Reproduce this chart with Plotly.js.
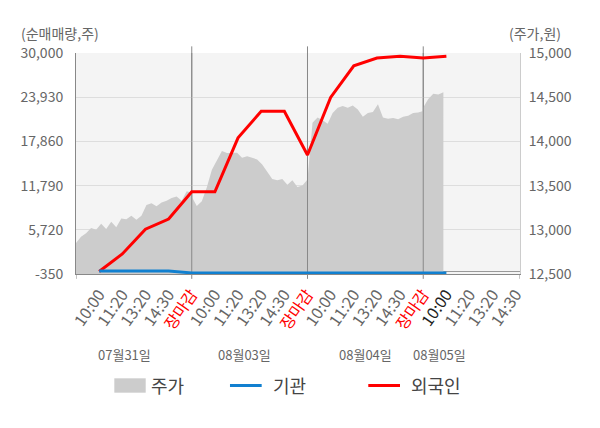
<!DOCTYPE html>
<html>
<head>
<meta charset="utf-8">
<script src="https://cdn.plot.ly/plotly-3.0.1.min.js"></script>
<style>
html, body { margin: 0; padding: 0; background: #fff; }
#chart { width: 600px; height: 428px; }
</style>
</head>
<body>
<div id="chart"></div>
<script>
// x tick labels (one per slot)
var timeLabels = ['10:00', '11:20', '13:20', '14:30', '장마감',
                  '10:00', '11:20', '13:20', '14:30', '장마감',
                  '10:00', '11:20', '13:20', '14:30', '장마감',
                  '10:00', '11:20', '13:20', '14:30'];
var dateLabels = ['07월31일', '08월03일', '08월04일', '08월05일'];

// stock price (원), intraday samples per day
var price0731 = [12852, 12920, 12960, 13020, 13000, 13068, 13010, 13090, 13030, 13128, 13120, 13159,
                 13114, 13160, 13280, 13300, 13265, 13310, 13330, 13360, 13378, 13330, 13435, 13420];
var price0803 = [13375, 13270, 13322, 13480, 13680, 13777, 13890, 13870, 13871, 13871, 13815, 13833,
                 13815, 13795, 13739, 13663, 13576, 13560, 13576, 13511, 13560, 13485, 13500, 13568];
var price0804 = [13568, 14212, 14269, 14240, 14200, 14320, 14380, 14400, 14380, 14405, 14360, 14280,
                 14320, 14333, 14420, 14269, 14255, 14265, 14250, 14280, 14290, 14320, 14326, 14345];
var price0805 = [14383, 14480, 14540, 14530, 14555];

// cumulative net buying (주)
var foreignNet = [0, 2400, 5800, 7200, 10950, 10950, 18350, 22000, 22000, 16000, 23900, 28250, 29300, 29550, 29300, 29550];
var instNet = [50, 50, 50, 50, -200, -200, -200, -200, -200, -200, -200, -200, -200, -200, -200, -200];

var volTicks = [-350, 5720, 11790, 17860, 23930, 30000];
var priceTicks = [12500, 13000, 13500, 14000, 14500, 15000];

var slotsPerDay = 5;
var xMax = 19.18;
var font = 'Noto Sans CJK KR, Noto Sans, sans-serif';

var priceDays = [price0731, price0803, price0804, price0805];
var priceX = [], priceY = [];
priceDays.forEach(function (d, di) {
  d.forEach(function (v, i) {
    priceX.push(di * slotsPerDay + i * slotsPerDay / 23);
    priceY.push(v);
  });
});

var netX = foreignNet.map(function (v, i) { return i + 1; });

var dayBounds = [1, 2, 3].map(function (d) { return d * slotsPerDay; });
var dayLineX = [], dayLineY = [];
dayBounds.forEach(function (b) {
  dayLineX.push(b, b, null);
  dayLineY.push(priceTicks[0], priceTicks[priceTicks.length - 1], null);
});

var tickText = timeLabels.map(function (t, i) {
  if (t === '장마감') return '<span style="color:#ff0000">' + t + '</span>';
  if (i === 15) return '<span style="color:#222">' + t + '</span>';
  return t;
});

var traces = [
  {
    x: priceX, y: priceY, type: 'scatter', mode: 'lines',
    fill: 'tozeroy', fillcolor: '#cccccc', line: {width: 0, color: '#cccccc'},
    xaxis: 'x', yaxis: 'y', showlegend: false
  },
  {
    x: dayLineX, y: dayLineY, type: 'scatter', mode: 'lines',
    line: {width: 1, color: '#888888'}, xaxis: 'x', yaxis: 'y', showlegend: false
  },
  {
    x: netX, y: foreignNet, type: 'scatter', mode: 'lines',
    line: {width: 3, color: '#ff0000'}, xaxis: 'x', yaxis: 'y2', showlegend: false
  },
  {
    x: netX, y: instNet, type: 'scatter', mode: 'lines',
    line: {width: 3, color: '#1180d0'}, xaxis: 'x', yaxis: 'y2', showlegend: false
  }
];

// day boundary lines above the plot + bottom tick marks
var shapes = [];
dayBounds.forEach(function (b) {
  shapes.push({type: 'line', xref: 'x', yref: 'paper', x0: b, x1: b, y0: 0, y1: 1.03,
               line: {color: '#888888', width: 1}, layer: 'below'});
});
[0].concat(dayBounds, [xMax]).forEach(function (b) {
  shapes.push({type: 'line', xref: 'x', yref: 'paper', x0: b, x1: b, y0: -0.022, y1: 0,
               line: {color: '#888888', width: 1}, layer: 'below'});
});

// custom legend
shapes.push({type: 'rect', xref: 'paper', yref: 'paper', x0: 0.0863, x1: 0.157, y0: -0.537, y1: -0.472,
             fillcolor: '#cccccc', line: {width: 0}});
shapes.push({type: 'line', xref: 'paper', yref: 'paper', x0: 0.3468, x1: 0.4182, y0: -0.5045, y1: -0.5045,
             line: {color: '#1180d0', width: 3}});
shapes.push({type: 'line', xref: 'paper', yref: 'paper', x0: 0.6583, x1: 0.7297, y0: -0.5045, y1: -0.5045,
             line: {color: '#ff0000', width: 3}});

var annotations = [
  {text: '(순매매량,주)', xref: 'paper', yref: 'paper', x: -0.128, y: 1.09, xanchor: 'left', yanchor: 'middle',
   showarrow: false, font: {family: font, size: 14, color: '#666'}},
  {text: '(주가,원)', xref: 'paper', yref: 'paper', x: 1.097, y: 1.09, xanchor: 'right', yanchor: 'middle',
   showarrow: false, font: {family: font, size: 14, color: '#666'}},
  {text: '주가', xref: 'paper', yref: 'paper', x: 0.1655, y: -0.5045, xanchor: 'left', yanchor: 'middle',
   showarrow: false, font: {family: font, size: 18, color: '#444'}},
  {text: '기관', xref: 'paper', yref: 'paper', x: 0.4392, y: -0.5045, xanchor: 'left', yanchor: 'middle',
   showarrow: false, font: {family: font, size: 18, color: '#444'}},
  {text: '외국인', xref: 'paper', yref: 'paper', x: 0.75, y: -0.5045, xanchor: 'left', yanchor: 'middle',
   showarrow: false, font: {family: font, size: 18, color: '#444'}}
];
var dateCenters = [2.1, 7.3, 12.5, 15.7];
dateLabels.forEach(function (d, i) {
  annotations.push({text: d, xref: 'x', yref: 'paper', x: dateCenters[i], y: -0.362,
                    xanchor: 'center', yanchor: 'middle', showarrow: false,
                    font: {family: font, size: 13, color: '#666'}});
});

var layout = {
  width: 600, height: 428,
  margin: {l: 76, r: 80, t: 53, b: 154},
  paper_bgcolor: '#ffffff',
  plot_bgcolor: '#f4f4f4',
  showlegend: false,
  hovermode: false,
  font: {family: font, color: '#666'},
  xaxis: {
    range: [0, xMax], tickmode: 'array',
    tickvals: timeLabels.map(function (t, i) { return i + 1; }),
    ticktext: tickText, tickangle: -55,
    tickfont: {family: font, size: 16, color: '#666'},
    showgrid: false, zeroline: false, ticks: '', ticklabelstandoff: 4,
    showline: true, linecolor: '#888888', linewidth: 1
  },
  yaxis: {
    range: [priceTicks[0], priceTicks[priceTicks.length - 1]],
    side: 'right', tickmode: 'array', tickvals: priceTicks,
    ticktext: priceTicks.map(function (v) { return v.toLocaleString('en-US'); }),
    tickfont: {family: font, size: 14, color: '#666'},
    showgrid: false, zeroline: false, showline: true, linecolor: '#cccccc',
    ticks: '', ticklabelstandoff: 5
  },
  yaxis2: {
    range: [volTicks[0], volTicks[volTicks.length - 1]],
    overlaying: 'y', side: 'left', tickmode: 'array', tickvals: volTicks,
    ticktext: volTicks.map(function (v) { return v.toLocaleString('en-US'); }),
    tickfont: {family: font, size: 14, color: '#666'},
    showgrid: true, gridcolor: '#dddddd', gridwidth: 1,
    zeroline: true, zerolinecolor: '#999999', zerolinewidth: 1,
    showline: true, linecolor: '#888888', ticks: '', ticklabelstandoff: 9
  },
  shapes: shapes,
  annotations: annotations
};

Plotly.newPlot('chart', traces, layout, {staticPlot: true, displayModeBar: false});
</script>
</body>
</html>
